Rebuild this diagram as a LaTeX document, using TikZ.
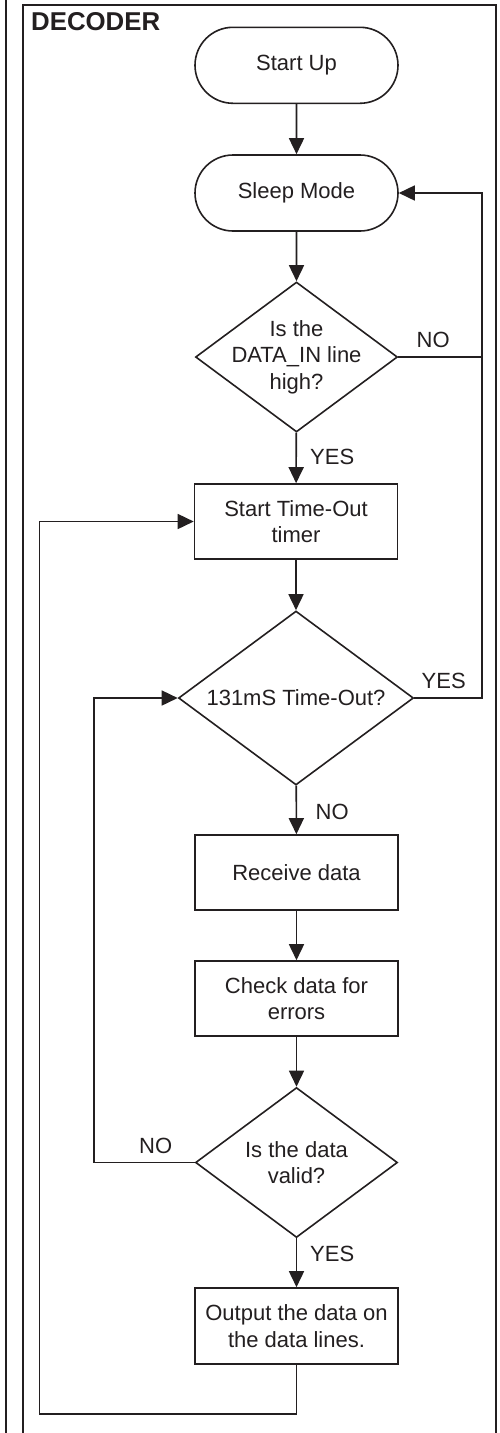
\documentclass[tikz,border=0pt]{standalone}
\usepackage{fontspec}
\setmainfont{Liberation Sans}
\usetikzlibrary{shapes.geometric,shapes.misc,arrows.meta}
\definecolor{ink}{HTML}{231F20}
\begin{document}
\begin{tikzpicture}[x=1pt,y=-1pt,
  every node/.style={inner sep=0pt, text=ink},
  flow/.style={draw=ink, line width=1.6pt, fill=white},
  termbox/.style={flow, rounded rectangle, minimum width=203pt, minimum height=76pt, font=\fontsize{22}{26.4}\selectfont},
  procbox/.style={flow, rectangle, minimum width=203pt, minimum height=75pt, align=center, font=\fontsize{22}{26.4}\selectfont},
  decision/.style={flow, diamond},
  txt/.style={font=\fontsize{22}{26.4}\selectfont, align=center},
  lbl/.style={font=\fontsize{22}{26.4}\selectfont, anchor=west},
  conn/.style={draw=ink, line width=1.6pt, -{Triangle[length=16pt,width=15pt]}},
  wire/.style={draw=ink, line width=1.6pt},
  frame/.style={draw=ink, line width=2.2pt},
]
\useasboundingbox (0,0) rectangle (500,1433);
% frames
\draw[frame] (6,-10) -- (6,1445);
\draw[frame] (23,1445) -- (23,5) -- (496,5) -- (496,1445);
\node[font=\fontsize{25.8}{30}\selectfont\bfseries, anchor=base west] (title) at (31,30.7) {DECODER};

% nodes
\node[termbox] (startup) at (296.5,65.3) {Start Up};
\node[termbox] (sleep) at (296.5,193) {Sleep Mode};
\node[decision, minimum width=202pt, minimum height=150pt] (d1) at (296.5,357) {};
\node[txt] (d1t) at (d1.center) {Is the\\DATA\_IN line\\high?};
\node[procbox] (timer) at (296,521.5) {Start Time-Out\\timer};
\node[decision, minimum width=235pt, minimum height=174pt] (d2) at (296,698) {};
\node[txt] (d2t) at (d2.center) {131mS Time-Out?};
\node[procbox] (receive) at (296.5,872.5) {Receive data};
\node[procbox] (check) at (296.5,998.5) {Check data for\\errors};
\node[decision, minimum width=202pt, minimum height=150pt] (d3) at (296.5,1162.5) {};
\node[txt] (d3t) at (d3.center) {Is the data\\valid?};
\node[procbox, minimum height=76pt] (output) at (296.5,1326) {Output the data on\\the data lines.};

% labels
\node[lbl] (l1) at (416.5,340) {NO};
\node[lbl] (l2) at (310,457) {YES};
\node[lbl] (l3) at (421.5,681) {YES};
\node[lbl] (l4) at (315.5,811.7) {NO};
\node[lbl] (l5) at (139,1145.7) {NO};
\node[lbl] (l6) at (310,1254) {YES};

% coordinates
\coordinate (rj) at (481.7,357);
\coordinate (il) at (94,1162.5);
\coordinate (b1) at (296.5,1414);
\coordinate (b2) at (39.3,1414);

% connectors
\draw[conn] (startup) -- (sleep);
\draw[conn] (sleep) -- (d1);
\draw[conn] (d1) -- (timer);
\draw[conn] (timer) -- (d2);
\draw[conn] (d2) -- (receive);
\draw[conn] (receive) -- (check);
\draw[conn] (check) -- (d3);
\draw[conn] (d3) -- (output);
\draw[conn] (d1.east) -- (rj) |- (sleep.east);
\draw[wire] (d2.east) -| (rj);
\draw[conn] (d3.west) -- (il) |- (d2.west);
\draw[conn] (output.south) -- (b1) -- (b2) |- (timer.west);
\end{tikzpicture}
\end{document}
